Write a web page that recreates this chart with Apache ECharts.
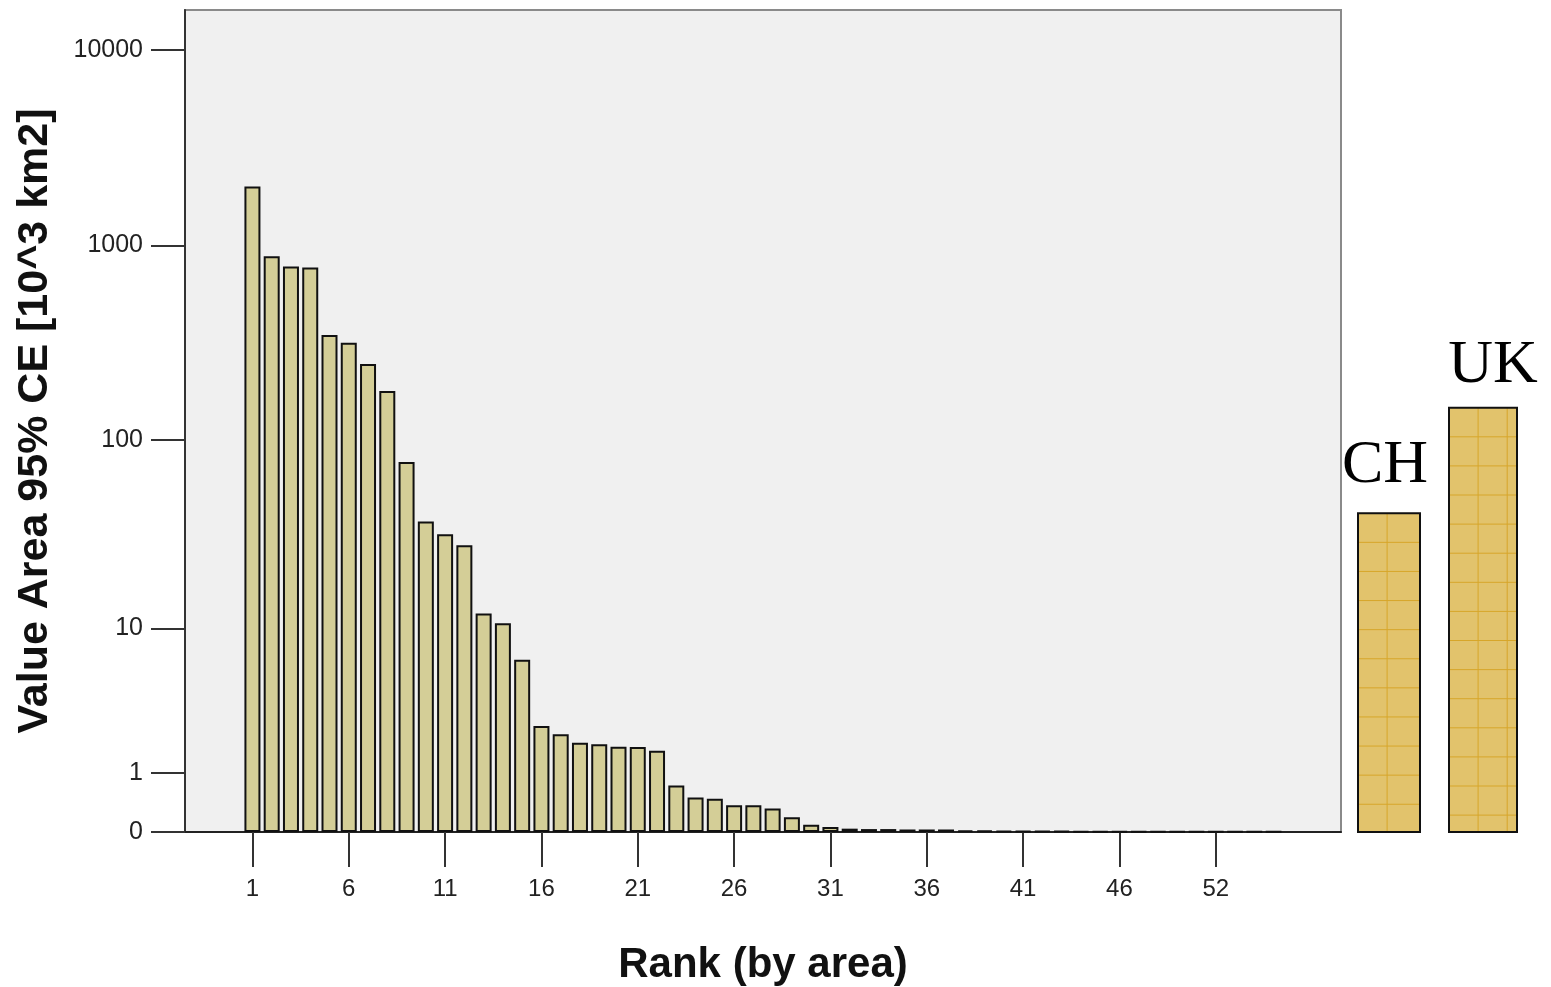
<!DOCTYPE html>
<html>
<head>
<meta charset="utf-8">
<script src="https://cdn.jsdelivr.net/npm/echarts@6/dist/echarts.min.js"></script>
<style>
html,body{margin:0;padding:0;background:#fff;}
#chart{width:1551px;height:987px;}
</style>
</head>
<body>
<div id="chart"></div>
<script>
// ---- data ----
const ranks = [1,2,3,4,5,6,7,8,9,10,11,12,13,14,15,16,17,18,19,20,21,22,23,24,25,26,27,28,29,30,
  31,32,33,34,35,36,37,38,39,40,41,42,43,44,45,46,47,48,49,50,52,53,54,55];
const areas = [2000,880,780,770,347,317,247,179,77,37.7,
  32.3,28.3,12.1,10.7,6.6,2.49,2.16,1.86,1.81,1.73,
  1.72,1.60,0.73,0.50,0.48,0.37,0.37,0.32,0.19,0.09,
  0.06,0.04,0.035,0.035,0.03,0.03,0.03,0.02,0.015,0.012,
  0.01,0.01,0.01,0.008,0.008,0.007,0.006,0.006,0.005,0.005,0.004,0.004,0.003,0.003];
const yTicks = [0,1,10,100,1000,10000];
const shownRanks = [1,6,11,16,21,26,31,36,41,46,52];
const countries = ['CH','UK'];
const countryAreas = [41.7,147];

// ---- helpers ----
const tf = v => Math.log10(1 + v);
const PAD = 3;
const cats = [];
for (let i = 0; i < PAD; i++) cats.push('');
ranks.forEach(r => cats.push(String(r)));
for (let i = 0; i < PAD; i++) cats.push('');
const barData = [];
for (let i = 0; i < PAD; i++) barData.push('-');
areas.forEach(v => barData.push(tf(v)));
for (let i = 0; i < PAD; i++) barData.push('-');
const shownIdx = shownRanks.map(r => cats.indexOf(String(r)));
const showIdx = (idx, val) => shownIdx.indexOf(idx) >= 0;

const YMAX = 4.2046;
const axisFont = 'Liberation Sans, Arial, sans-serif';

const chart = echarts.init(document.getElementById('chart'));
chart.setOption({
  animation: false,
  grid: [
    {left:185, right:210, top:10, bottom:155, show:true, outerBoundsMode:'none', containLabel:false,
     backgroundColor:'#F0F0F0', borderColor:'#8a8a8a', borderWidth:2},
    {left:1342, right:21, top:10, bottom:155, show:false, outerBoundsMode:'none', containLabel:false}
  ],
  xAxis: [
    {
      type:'category', gridIndex:0, data:cats, boundaryGap:true,
      axisLine:{lineStyle:{color:'#222', width:2}},
      axisTick:{show:true, alignWithLabel:true, customValues:shownIdx, length:35, lineStyle:{color:'#333', width:2}},
      axisLabel:{interval:showIdx, margin:45, fontSize:24, color:'#222', fontFamily:axisFont},
      name:'Rank (by area)', nameLocation:'middle', nameGap:112,
      nameTextStyle:{fontSize:42, fontWeight:'bold', color:'#111', fontFamily:axisFont}
    },
    {
      type:'category', gridIndex:1, data:countries, show:false
    }
  ],
  yAxis: [
    {
      type:'value', gridIndex:0, min:0, max:YMAX,
      splitLine:{show:false},
      axisLine:{show:true, lineStyle:{color:'#333', width:2}},
      axisTick:{show:true, length:34, customValues:yTicks.map(tf), lineStyle:{color:'#333', width:2}},
      axisLabel:{customValues:yTicks.map(tf), margin:42, fontSize:25, color:'#222', fontFamily:axisFont,
        formatter: v => String(Math.round(Math.pow(10, v) - 1))},
      name:'Value Area 95% CE [10^3 km2]', nameLocation:'middle', nameGap:128, nameRotate:90,
      nameTextStyle:{fontSize:43, fontWeight:'bold', color:'#111', fontFamily:axisFont}
    },
    {
      type:'value', gridIndex:1, min:0, max:YMAX, show:false
    }
  ],
  series: [
    {
      type:'bar', xAxisIndex:0, yAxisIndex:0, data:barData, barWidth:16,
      itemStyle:{color:'#D4CE97', borderColor:'#111', borderWidth:2}
    },
    {
      type:'custom', xAxisIndex:1, yAxisIndex:1,
      data: countryAreas.map((v, i) => [i, tf(v)]),
      renderItem: function (params, api) {
        const i = params.dataIndex;
        const widths = [62, 68];
        const labelDx = [-4, 10];
        const labelDy = [-17, -11];
        const top = api.coord([api.value(0), api.value(1)]);
        const base = api.coord([api.value(0), 0]);
        const w = widths[i];
        const x0 = top[0] - w / 2, y0 = top[1], h = base[1] - top[1];
        const children = [{
          type:'rect', shape:{x:x0, y:y0, width:w, height:h},
          style:{fill:'#E2C36C'}
        }];
        const cell = 29.1;
        for (let yy = y0 + cell; yy < y0 + h - 3; yy += cell) {
          children.push({type:'line', shape:{x1:x0, y1:yy, x2:x0 + w, y2:yy}, style:{stroke:'#D7A62A', lineWidth:1}});
        }
        for (let xx = x0 + cell; xx < x0 + w - 4; xx += cell) {
          children.push({type:'line', shape:{x1:xx, y1:y0, x2:xx, y2:y0 + h}, style:{stroke:'#D7A62A', lineWidth:1}});
        }
        children.push({
          type:'rect', shape:{x:x0, y:y0, width:w, height:h},
          style:{fill:null, stroke:'#111', lineWidth:2}
        });
        children.push({
          type:'text',
          style:{text:countries[i], x:top[0] + labelDx[i], y:y0 + labelDy[i], textAlign:'center', textVerticalAlign:'bottom',
            font:'62px "Liberation Serif", "Times New Roman", serif', fill:'#000'}
        });
        return {type:'group', children:children};
      }
    }
  ]
});
</script>
</body>
</html>
